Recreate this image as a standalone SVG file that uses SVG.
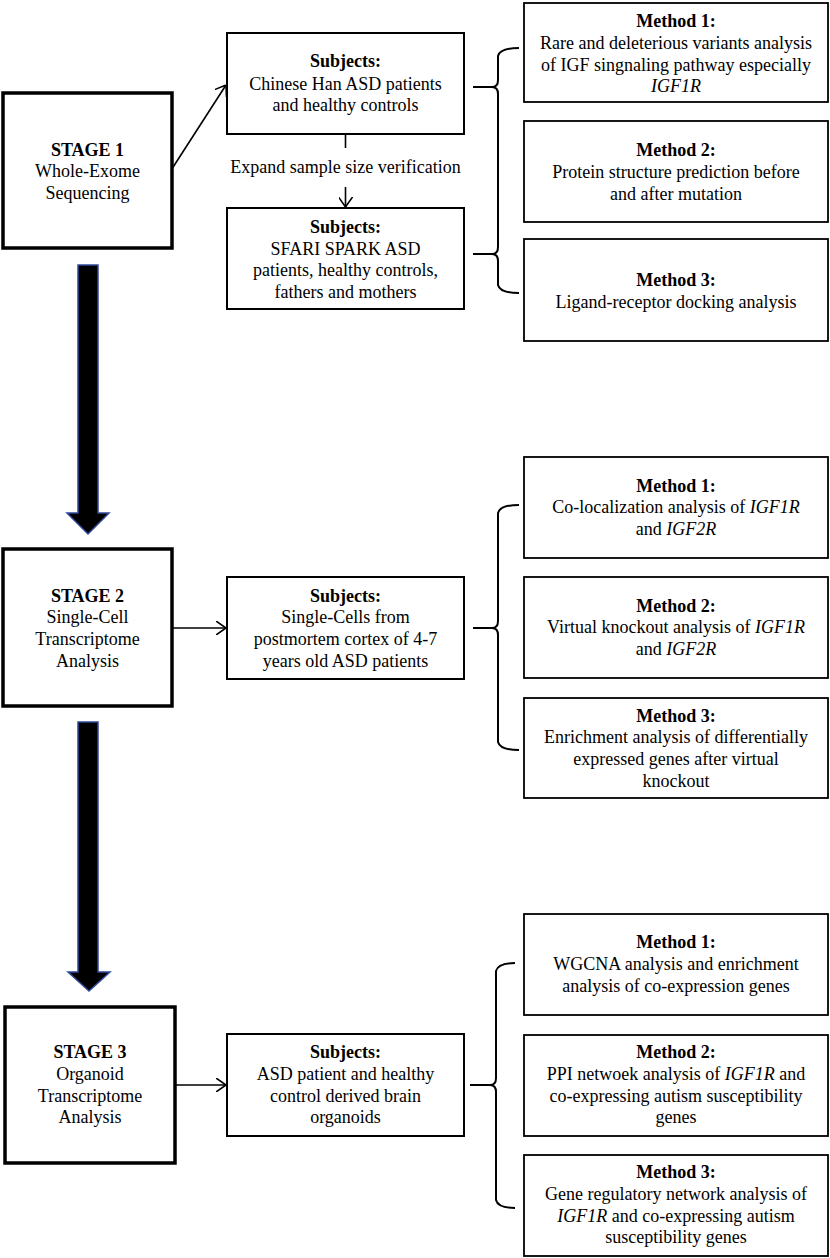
<svg xmlns="http://www.w3.org/2000/svg" width="830" height="1258" viewBox="0 0 830 1258">
<defs>
<style>
text{font-family:"Liberation Serif","Times New Roman",serif;font-size:18px;fill:#000;text-anchor:middle}
.b{font-weight:bold}
.i{font-style:italic}
.stage{fill:#fff;stroke:#000;stroke-width:3.5}
.subj{fill:#fff;stroke:#000;stroke-width:2}
.meth{fill:#fff;stroke:#000;stroke-width:1.8}
.ln{fill:none;stroke:#000;stroke-width:1.6}
.brace{fill:none;stroke:#000;stroke-width:2}
.big{fill:#000;stroke:#2E4A9A;stroke-width:1.5}
</style>
<marker id="open" viewBox="0 0 10 14" refX="10" refY="7" markerWidth="10" markerHeight="14" markerUnits="userSpaceOnUse" orient="auto">
<path d="M0,0 L10,7 L0,14" fill="none" stroke="#000" stroke-width="1.6"/>
</marker>
</defs>
<rect width="830" height="1258" fill="#fff"/>

<g id="connectors">
<path class="ln" d="M172.5,168 L226,85" marker-end="url(#open)"/>
<path class="ln" d="M345.5,134 L345.5,148"/>
<path class="ln" d="M345.5,187 L345.5,207" marker-end="url(#open)"/>
<path class="ln" d="M172,628 L226,628" marker-end="url(#open)"/>
<path class="ln" d="M175,1085 L226,1085" marker-end="url(#open)"/>
<path class="brace" d="M473,87 L492,87 M473,254 L492,254 M519,48 Q500,48 498,56 L498,80 Q498,87 492,87 Q498,87 498,94 L498,247 Q498,254 492,254 Q498,254 498,261 L498,285 Q500,293 519,293"/>
<path class="brace" d="M473,628 L492,628 M519,505 Q500,505 498,513 L498,621 Q498,628 492,628 Q498,628 498,635 L498,742 Q500,750 519,750"/>
<path class="brace" d="M470,1085 L490,1085 M515,963 Q498,963 496,971 L496,1078 Q496,1085 490,1085 Q496,1085 496,1092 L496,1200 Q498,1208 515,1208"/>
<polygon class="big" points="78,265 98,265 98,513 109,513 88,534 67,513 78,513"/>
<polygon class="big" points="78,722 98,722 98,972 110,972 89,991 68,972 78,972"/>
</g>

<g id="stage1">
<rect class="stage" x="3" y="93" width="169" height="155"/>
<text class="b" x="87.5" y="156">STAGE 1</text>
<text x="87.5" y="177">Whole-Exome</text>
<text x="87.5" y="199">Sequencing</text>
</g>
<g id="subjects1">
<rect class="subj" x="227" y="33" width="237" height="101"/>
<text class="b" x="345.5" y="67">Subjects:</text>
<text x="345.5" y="90">Chinese Han ASD patients</text>
<text x="345.5" y="111">and healthy controls</text>
</g>
<g id="expand-label">
<text x="345.5" y="173">Expand sample size verification</text>
</g>
<g id="subjects2">
<rect class="subj" x="227" y="208" width="237" height="101"/>
<text class="b" x="345.5" y="233">Subjects:</text>
<text x="345.5" y="255">SFARI SPARK ASD</text>
<text x="345.5" y="276">patients, healthy controls,</text>
<text x="345.5" y="298">fathers and mothers</text>
</g>
<g id="s1m1">
<rect class="meth" x="524" y="3" width="304" height="99"/>
<text class="b" x="676" y="27">Method 1:</text>
<text x="676" y="49">Rare and deleterious variants analysis</text>
<text x="676" y="71">of IGF singnaling pathway especially</text>
<text class="i" x="676" y="92">IGF1R</text>
</g>
<g id="s1m2">
<rect class="meth" x="524" y="121" width="304" height="101"/>
<text class="b" x="676" y="156">Method 2:</text>
<text x="676" y="178">Protein structure prediction before</text>
<text x="676" y="200">and after mutation</text>
</g>
<g id="s1m3">
<rect class="meth" x="524" y="239" width="304" height="102"/>
<text class="b" x="676" y="286">Method 3:</text>
<text x="676" y="308">Ligand-receptor docking analysis</text>
</g>

<g id="stage2">
<rect class="stage" x="3" y="549" width="169" height="157"/>
<text class="b" x="87.5" y="602">STAGE 2</text>
<text x="87.5" y="623">Single-Cell</text>
<text x="87.5" y="645">Transcriptome</text>
<text x="87.5" y="667">Analysis</text>
</g>
<g id="subjects3">
<rect class="subj" x="227" y="577" width="237" height="102"/>
<text class="b" x="345.5" y="602">Subjects:</text>
<text x="345.5" y="623">Single-Cells from</text>
<text x="345.5" y="645">postmortem cortex of 4-7</text>
<text x="345.5" y="667">years old ASD patients</text>
</g>
<g id="s2m1">
<rect class="meth" x="524" y="457" width="304" height="101"/>
<text class="b" x="676" y="492">Method 1:</text>
<text x="676" y="513">Co-localization analysis of <tspan class="i">IGF1R</tspan></text>
<text x="676" y="535">and <tspan class="i">IGF2R</tspan></text>
</g>
<g id="s2m2">
<rect class="meth" x="524" y="577" width="304" height="101"/>
<text class="b" x="676" y="612">Method 2:</text>
<text x="676" y="633">Virtual knockout analysis of <tspan class="i">IGF1R</tspan></text>
<text x="676" y="655">and <tspan class="i">IGF2R</tspan></text>
</g>
<g id="s2m3">
<rect class="meth" x="524" y="698" width="304" height="100"/>
<text class="b" x="676" y="722">Method 3:</text>
<text x="676" y="743">Enrichment analysis of differentially</text>
<text x="676" y="765">expressed genes after virtual</text>
<text x="676" y="787">knockout</text>
</g>

<g id="stage3">
<rect class="stage" x="5" y="1007" width="170" height="156"/>
<text class="b" x="90" y="1058">STAGE 3</text>
<text x="90" y="1080">Organoid</text>
<text x="90" y="1102">Transcriptome</text>
<text x="90" y="1123">Analysis</text>
</g>
<g id="subjects4">
<rect class="subj" x="227" y="1034" width="237" height="102"/>
<text class="b" x="345.5" y="1058">Subjects:</text>
<text x="345.5" y="1080">ASD patient and healthy</text>
<text x="345.5" y="1102">control derived brain</text>
<text x="345.5" y="1123">organoids</text>
</g>
<g id="s3m1">
<rect class="meth" x="524" y="914" width="304" height="101"/>
<text class="b" x="676" y="948">Method 1:</text>
<text x="676" y="970">WGCNA analysis and enrichment</text>
<text x="676" y="992">analysis of co-expression genes</text>
</g>
<g id="s3m2">
<rect class="meth" x="524" y="1035" width="304" height="101"/>
<text class="b" x="676" y="1058">Method 2:</text>
<text x="676" y="1080">PPI netwoek analysis of <tspan class="i">IGF1R</tspan> and</text>
<text x="676" y="1102">co-expressing autism susceptibility</text>
<text x="676" y="1123">genes</text>
</g>
<g id="s3m3">
<rect class="meth" x="524" y="1155" width="304" height="101"/>
<text class="b" x="676" y="1178">Method 3:</text>
<text x="676" y="1200">Gene regulatory network analysis of</text>
<text x="676" y="1222"><tspan class="i">IGF1R</tspan> and co-expressing autism</text>
<text x="676" y="1243">susceptibility genes</text>
</g>
</svg>
